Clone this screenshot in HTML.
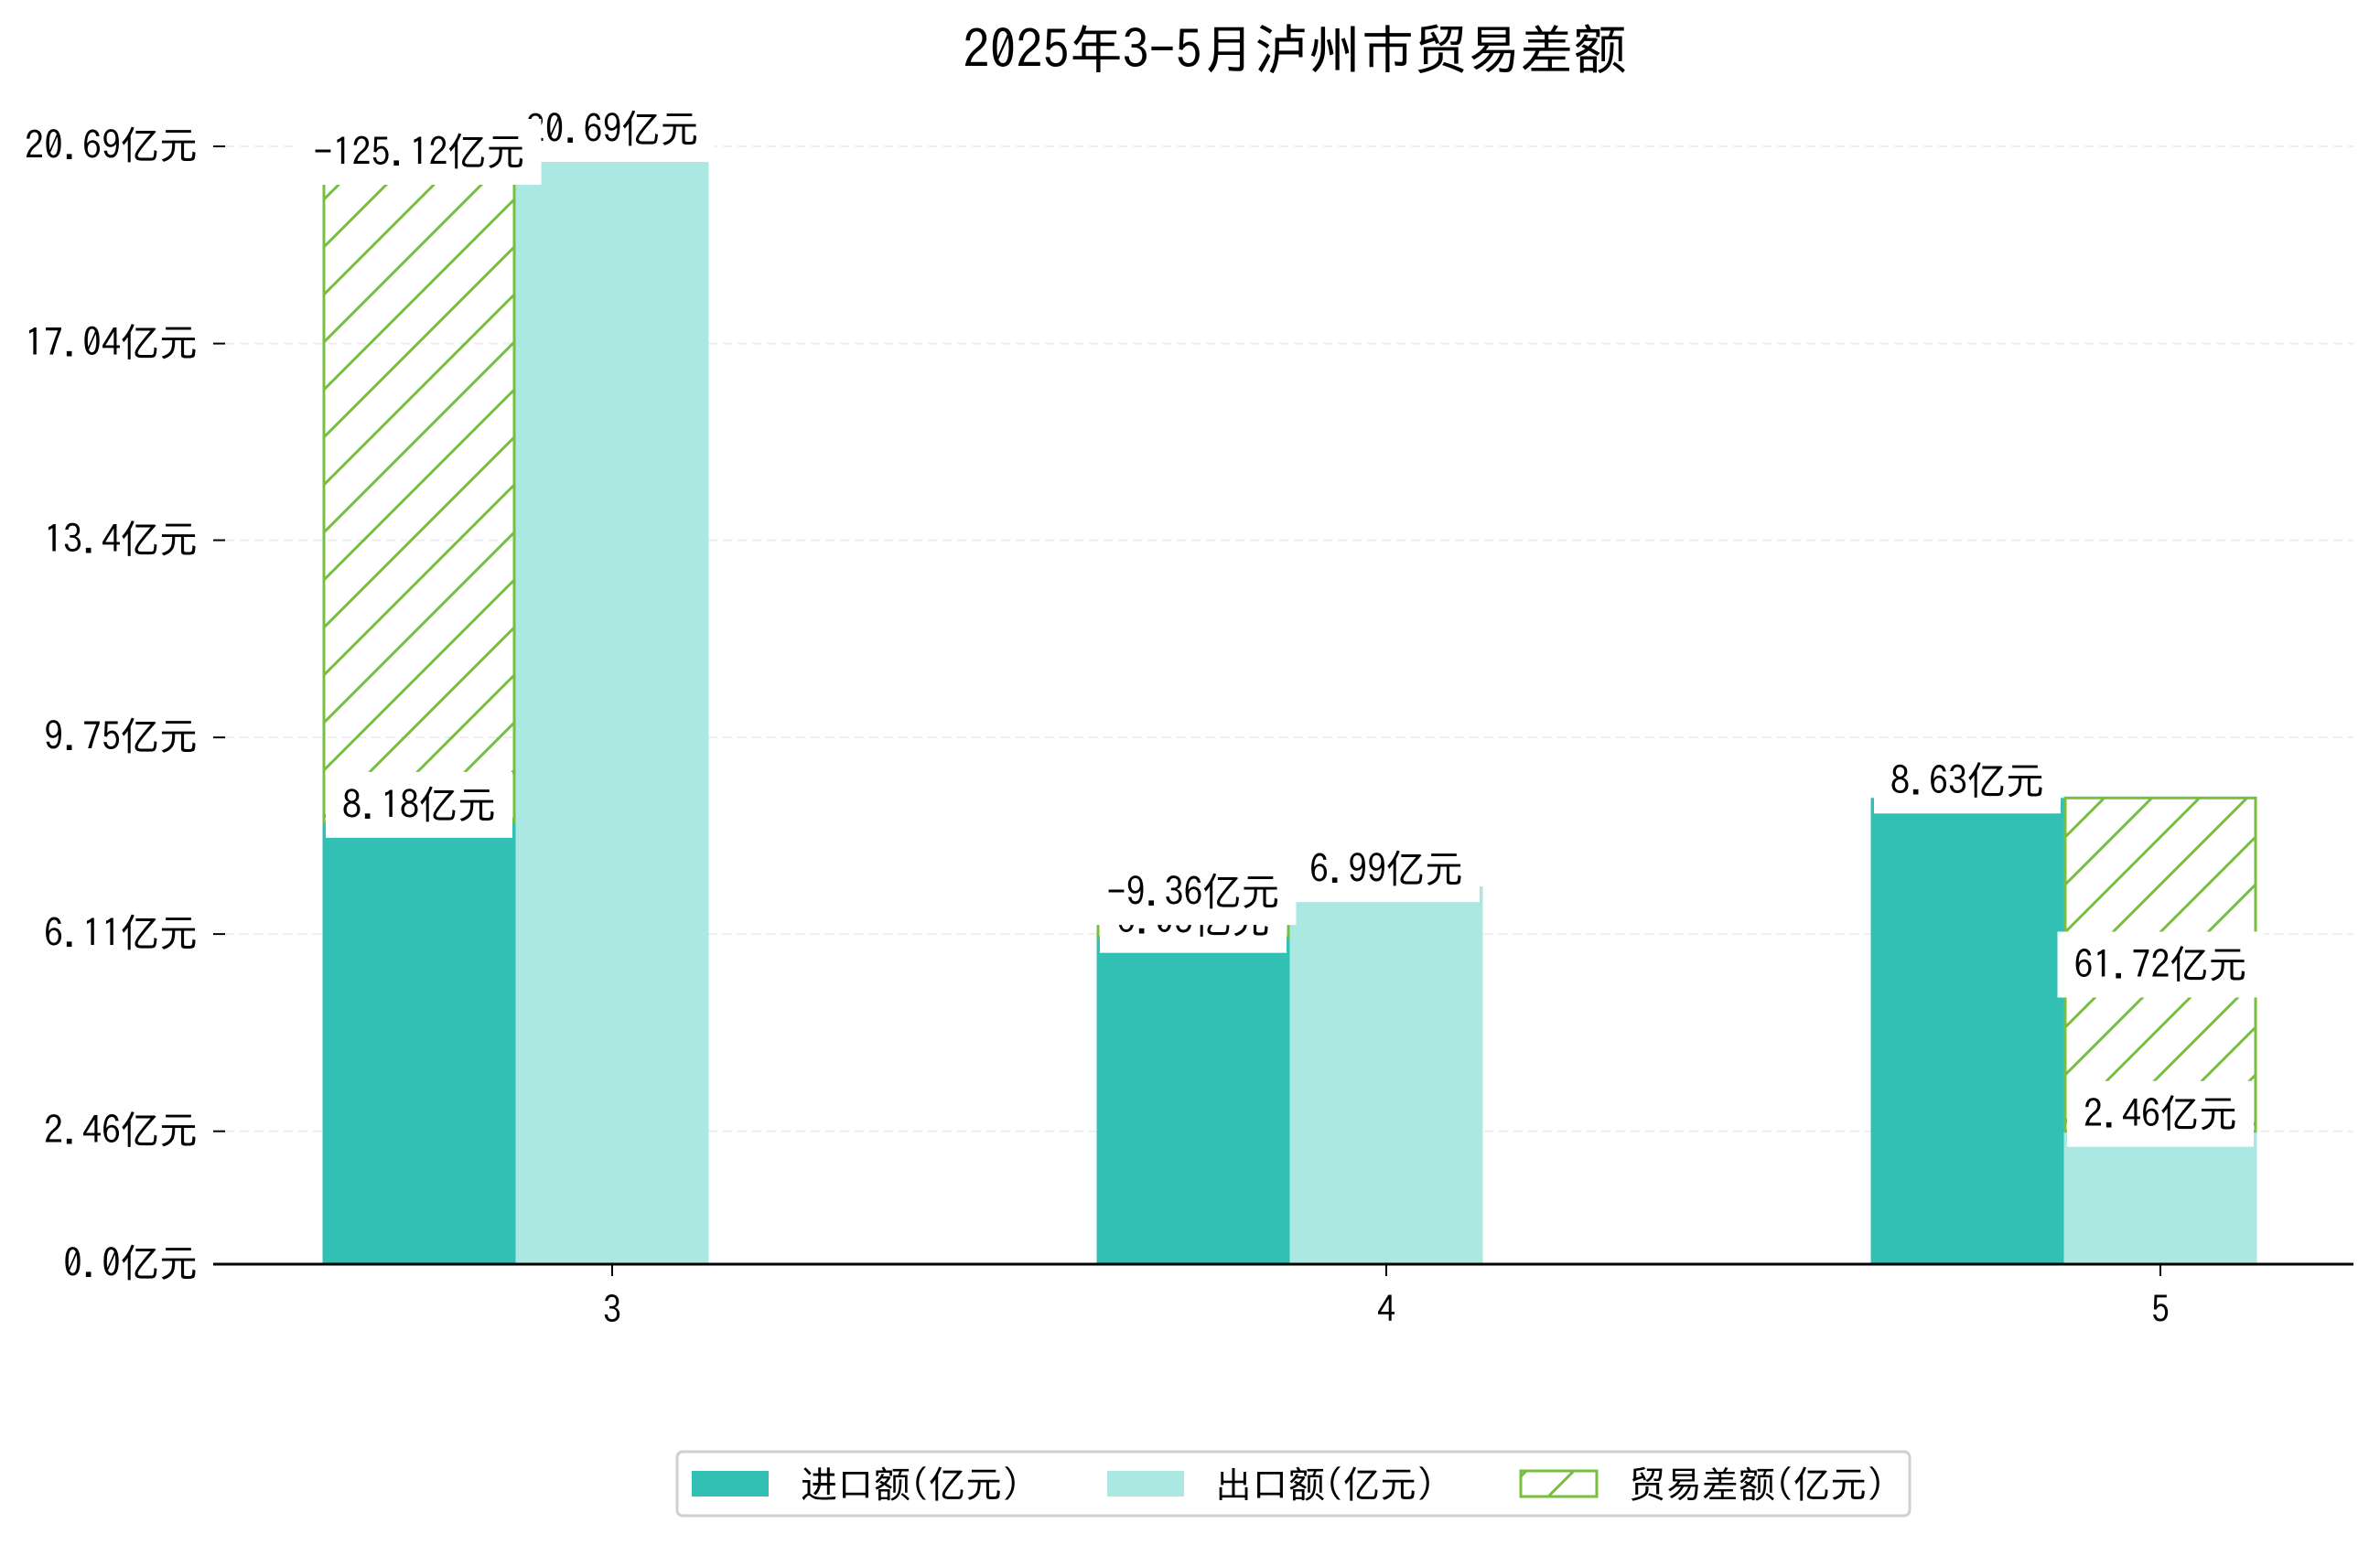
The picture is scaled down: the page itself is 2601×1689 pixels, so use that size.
<!DOCTYPE html>
<html><head><meta charset="utf-8">
<style>
html,body{margin:0;padding:0;background:#fff;}
svg{display:block;}
text{font-family:"IPAGothic","Noto Sans CJK SC","Liberation Sans",sans-serif;fill:#000;}
</style></head>
<body>
<svg id="chart" width="2601" height="1689" viewBox="0 0 2601 1689" xmlns="http://www.w3.org/2000/svg">
<defs>
<pattern id="hatch" patternUnits="userSpaceOnUse" width="52" height="52">
<path d="M-13,13 L13,-13 M0,52 L52,0 M39,65 L65,39" stroke="#77bf3e" stroke-width="3"/>
</pattern>
</defs>
<text x="1415" y="75" font-size="58" text-anchor="middle">2025年3-5月泸州市贸易差额</text>
<g id="grid"></g>
<g id="bars"></g>
<g id="labels"></g>
<g id="labels2"></g>
<g id="axes"></g>
<g id="legend">
<rect x="740" y="1587" width="1347" height="70" rx="6" fill="#fff" stroke="#d0d0d0" stroke-width="3"/>
<g>
<rect x="756" y="1608" width="84" height="28" fill="#31c0b3"/>
<text x="875" y="1637" font-size="40">进口额(亿元)</text>
</g>
<g>
<rect x="1210" y="1608" width="84" height="28" fill="#aae8e1"/>
<text x="1328" y="1637" font-size="40">出口额(亿元)</text>
</g>
<g>
<rect x="1662" y="1608" width="83" height="28" fill="url(#hatch)" stroke="#77bf3e" stroke-width="3"/>
<text x="1780" y="1637" font-size="40">贸易差额(亿元)</text>
</g>
</g>
</svg>
<script>
const months = ['3','4','5'];
const importValues = [8.18, 6.05, 8.63];
const exportValues = [20.69, 6.99, 2.46];
const balanceLabels = ['-125.12', '-9.36', '61.72'];
const yTicks = [0.0, 2.46, 6.11, 9.75, 13.4, 17.04, 20.69];
const yTickLabels = ['0.0亿元','2.46亿元','6.11亿元','9.75亿元','13.4亿元','17.04亿元','20.69亿元'];
const balanceLabelPlacement = ['top','top','mid'];

const NS = 'http://www.w3.org/2000/svg';
const X0 = 233, X1 = 2572, Y0 = 1382, Y_TOP = 160, YMAXV = 20.69;
const SPACING = 846, FIRSTC = 669, BW = 211;
function yScale(v){ return Y0 - (v / YMAXV) * (Y0 - Y_TOP); }
function xCenter(i){ return FIRSTC + i * SPACING; }
function mk(tag, attrs, parent){ const e = document.createElementNS(NS, tag); for (const k in attrs) e.setAttribute(k, attrs[k]); parent.appendChild(e); return e; }

const grid = document.getElementById('grid');
const bars = document.getElementById('bars');
const labels = document.getElementById('labels');
const labels2 = document.getElementById('labels2');
const axes = document.getElementById('axes');

yTicks.forEach((t, i) => {
  const y = yScale(t);
  if (i > 0) {
    const g = mk('line', {x1: X0 + 13, x2: X1, y1: y, y2: y, stroke: '#eeeeee', 'stroke-width': 2, 'stroke-dasharray': '10,6'}, grid);
    
    
  }
  const tk = mk('line', {x1: X0, x2: X0 + 13, y1: y, y2: y, stroke: '#000', 'stroke-width': 2}, axes);
  
  
  const lb = mk('text', {x: 216, y: y + 14, 'font-size': 42, 'text-anchor': 'end'}, axes);
  lb.textContent = yTickLabels[i];
  
  
});
const spine = mk('line', {x1: X0, x2: X1, y1: Y0, y2: Y0, stroke: '#000', 'stroke-width': 3}, axes);



function measure(s){ let w = 0; for (const ch of s) w += (ch.charCodeAt(0) < 256) ? 21 : 42; return w; }
function addLabel(text, cx, cy, name, parent){
  const w = measure(text);
  const r = mk('rect', {x: cx - w/2 - 18, y: cy - 36, width: w + 36, height: 72, fill: '#fff'}, parent);
  
  
  const t = mk('text', {x: cx, y: cy + 15, 'font-size': 42, 'text-anchor': 'middle'}, parent);
  t.textContent = text;
  
  
}

months.forEach((m, i) => {
  const c = xCenter(i);
  const imp = importValues[i], exp = exportValues[i];
  const ib = mk('rect', {x: c - 1.5*BW, y: yScale(imp), width: BW, height: Y0 - yScale(imp), fill: '#31c0b3'}, bars);
  
  
  const eb = mk('rect', {x: c - 0.5*BW, y: yScale(exp), width: BW, height: Y0 - yScale(exp), fill: '#aae8e1'}, bars);
  
  
  const lo = Math.min(imp, exp), hi = Math.max(imp, exp);
  const bx = imp <= exp ? c - 1.5*BW : c - 0.5*BW;
  const db = mk('rect', {x: bx + 1.5, y: yScale(hi), width: BW - 3, height: yScale(lo) - yScale(hi), fill: 'url(#hatch)', stroke: '#77bf3e', 'stroke-width': 3}, bars);
  
  

  const xt = mk('line', {x1: c, x2: c, y1: Y0, y2: Y0 + 13, stroke: '#000', 'stroke-width': 2}, axes);
  
  
  const xl = mk('text', {x: c, y: 1446, 'font-size': 40, 'text-anchor': 'middle'}, axes);
  xl.textContent = m;
  
  

  addLabel(imp.toFixed(2) + '亿元', c - BW, yScale(imp) - 19, 'import-value-label', labels);
  addLabel(exp.toFixed(2) + '亿元', c, yScale(exp) - 19, 'export-value-label', labels);
  const by = balanceLabelPlacement[i] === 'mid' ? (yScale(lo) + yScale(hi)) / 2 : yScale(hi) + 6;
  addLabel(balanceLabels[i] + '亿元', bx + BW/2, by, 'balance-value-label', labels2);
});
</script>
</body></html>
